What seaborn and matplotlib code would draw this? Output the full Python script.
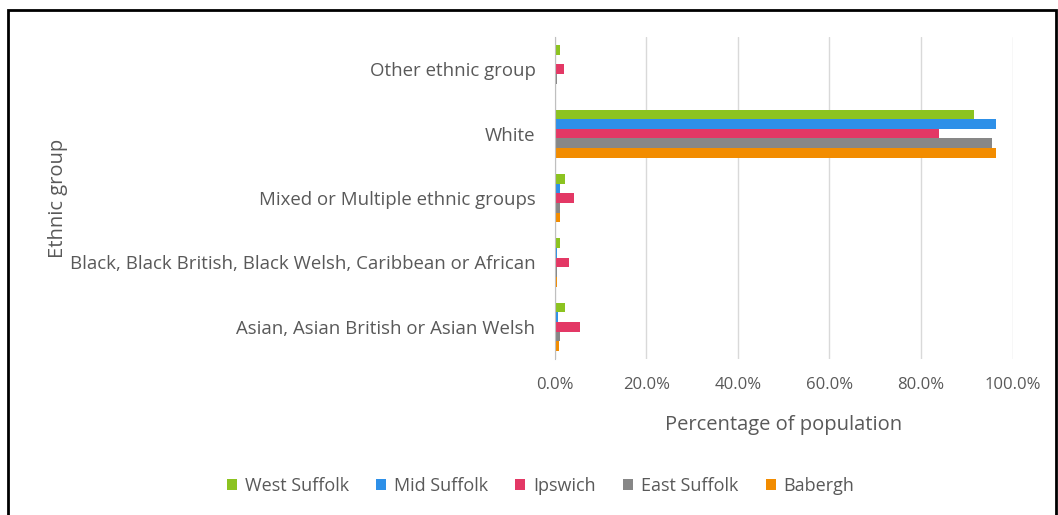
import pandas as pd
import seaborn as sns
import matplotlib.pyplot as plt
from matplotlib.patches import Rectangle
from matplotlib.ticker import PercentFormatter

groups = ['Other ethnic group', 'White', 'Mixed or Multiple ethnic groups',
          'Black, Black British, Black Welsh, Caribbean or African',
          'Asian, Asian British or Asian Welsh']
areas = ['West Suffolk', 'Mid Suffolk', 'Ipswich', 'East Suffolk', 'Babergh']

west_suffolk = [1.2, 91.5, 2.3, 1.2, 2.3]
mid_suffolk = [0.3, 96.5, 1.2, 0.5, 0.6]
ipswich = [2.0, 84.0, 4.2, 3.1, 5.5]
east_suffolk = [0.4, 95.6, 1.2, 0.5, 1.2]
babergh = [0.3, 96.5, 1.2, 0.5, 0.8]

colors = ['#8cc320', '#2e90e8', '#e33865', '#878787', '#f28c00']

rows = []
for area, vals in zip(areas, [west_suffolk, mid_suffolk, ipswich, east_suffolk, babergh]):
    for g, v in zip(groups, vals):
        rows.append({'group': g, 'area': area, 'pct': v})
df = pd.DataFrame(rows)

sns.set_style('white')
plt.rcParams['font.family'] = ['Open Sans', 'DejaVu Sans']

fig, ax = plt.subplots(figsize=(10.58, 5.15), dpi=100)
fig.subplots_adjust(left=0.5245, right=0.957, top=0.928, bottom=0.303)

sns.barplot(data=df, y='group', x='pct', hue='area', order=groups, hue_order=areas,
            palette=colors, orient='h', width=0.75, ax=ax, saturation=1, legend=True,
            linewidth=0)

ax.set_xlim(0, 100)
ax.set_xticks([0, 20, 40, 60, 80, 100])
ax.xaxis.set_major_formatter(PercentFormatter(decimals=1))
ax.grid(axis='x', color='#d9d9d9', linewidth=1)
ax.set_axisbelow(True)
for s in ['top', 'right', 'bottom']:
    ax.spines[s].set_visible(False)
ax.spines['left'].set_color('#bfbfbf')
ax.tick_params(axis='both', length=0, colors='#595959')
ax.tick_params(axis='y', pad=14, labelsize=13.4)
ax.tick_params(axis='x', pad=13, labelsize=12)
ax.set_xlabel('Percentage of population', fontsize=14.5, color='#595959', labelpad=16)
ax.set_ylabel('Ethnic group', fontsize=14.5, color='#595959', labelpad=0)
ax.yaxis.set_label_coords(-1.064, 0.5)

leg = ax.legend(loc='center', bbox_to_anchor=(0.511, 0.056), bbox_transform=fig.transFigure,
                ncol=5, frameon=False, fontsize=13, handlelength=0.55, handleheight=0.55,
                columnspacing=1.5, handletextpad=0.45)
for t in leg.get_texts():
    t.set_color('#595959')

fig.patches.append(Rectangle((0.008, -0.05), 0.99, 1.03, transform=fig.transFigure,
                             fill=False, edgecolor='black', linewidth=2))

plt.savefig('out.png', dpi=100)
